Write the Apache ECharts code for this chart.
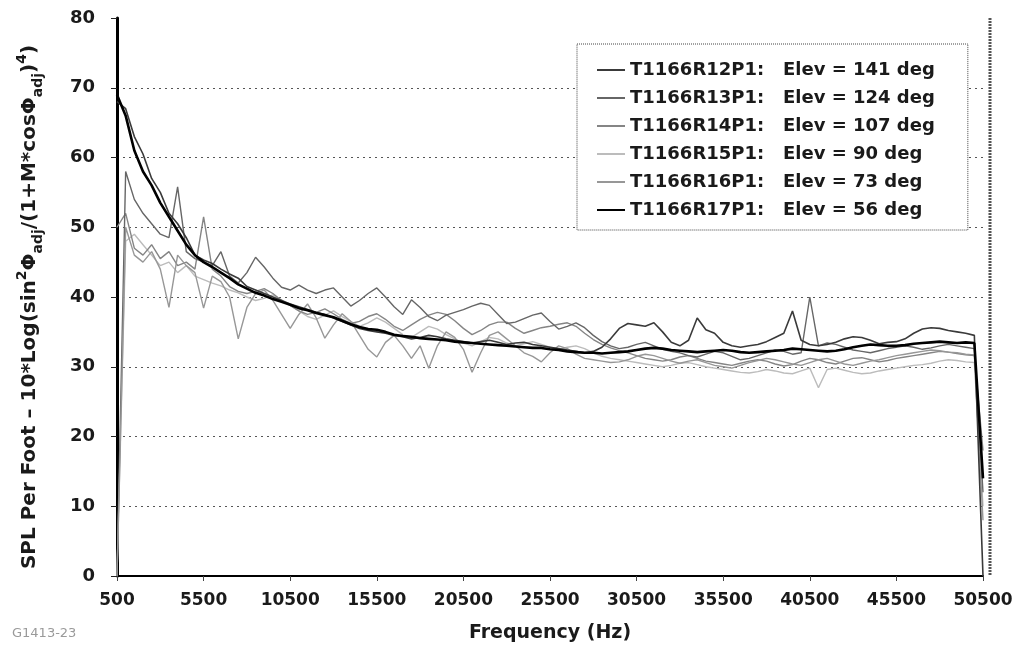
<!DOCTYPE html>
<html><head><meta charset="utf-8">
<script src="https://cdn.jsdelivr.net/npm/echarts@6/dist/echarts.min.js"></script>
<style>html,body{margin:0;padding:0;background:#fff}#c{width:1028px;height:649px}</style>
</head><body><div id="c"></div>
<script>
const frequencies = [
  500,1000,1500,2000,2500,3000,3500,4000,4500,5000,
  5500,6000,6500,7000,7500,8000,8500,9000,9500,10000,
  10500,11000,11500,12000,12500,13000,13500,14000,14500,15000,
  15500,16000,16500,17000,17500,18000,18500,19000,19500,20000,
  20500,21000,21500,22000,22500,23000,23500,24000,24500,25000,
  25500,26000,26500,27000,27500,28000,28500,29000,29500,30000,
  30500,31000,31500,32000,32500,33000,33500,34000,34500,35000,
  35500,36000,36500,37000,37500,38000,38500,39000,39500,40000,
  40500,41000,41500,42000,42500,43000,43500,44000,44500,45000,
  45500,46000,46500,47000,47500,48000,48500,49000,49500,50000,
  50500];
const seriesNames = ['T1166R12P1','T1166R13P1','T1166R14P1','T1166R15P1','T1166R16P1','T1166R17P1'];
const elevations = [141,124,107,90,73,56];
const yTicks = [0,10,20,30,40,50,60,70,80];

const r12 = [
  68,67,63,60.5,57,55,52,50.5,48.5,46,
  45.3,44.8,44,43.3,42.7,41.5,41,40.5,40,39.5,
  39,38.6,38.2,37.8,37.5,37,36.5,36,35.5,35.2,
  35,34.8,34.5,34.3,34,34.2,34.5,34.3,34,33.8,
  33.6,33.4,33.6,33.8,33.5,33.2,33.4,33.5,33.2,33,
  32.8,32.6,32.4,32.2,32,32.2,32.8,34,35.5,36.2,
  36,35.8,36.3,35,33.5,33,33.8,37,35.3,34.8,
  33.5,33,32.8,33,33.2,33.6,34.2,34.8,38,33.8,
  33.2,33,33.2,33.5,34,34.3,34.2,33.8,33.3,33.5,
  33.6,34,34.8,35.4,35.6,35.5,35.2,35,34.8,34.5,
  0];
const r13 = [
  0,58,54,52,50.5,49,48.5,55.8,46.5,45.5,
  45,44.5,46.5,43,42,43.5,45.7,44.3,42.7,41.4,
  41,41.7,41,40.5,41,41.3,40,38.7,39.5,40.5,
  41.3,40,38.6,37.5,39.6,38.5,37.2,36.6,37.4,37.8,
  38.2,38.7,39.1,38.8,37.5,36.2,36.4,36.9,37.4,37.7,
  36.5,35.4,35.8,36.3,35.6,34.5,33.6,33,32.6,32.8,
  33.2,33.5,33,32.5,32.2,32,31.6,31.4,31.8,32.2,
  32,31.5,31,31.2,31.6,32,32.4,32.2,31.8,32,
  40,33,33.4,33.2,32.8,32.4,32.2,32,32.3,32.6,
  32.8,33,32.8,32.5,32.7,33,33.2,33,32.8,32.6,
  12];
const r14 = [
  50,52,47,46,47.5,45.5,46.5,44.5,45,44,
  51.5,44,43,41.5,40.8,40.5,40.8,41.2,40.5,39.5,
  38.8,38,37.5,37.8,38.3,37.6,36.8,36.2,36.5,37.2,
  37.6,36.8,35.8,35.2,36,36.8,37.4,37.8,37.5,36.6,
  35.5,34.6,35.2,36,36.4,36.4,35.5,34.8,35.2,35.6,
  35.8,36.1,36.3,35.8,34.8,33.9,33.2,32.7,32.3,32,
  31.6,31.2,31,30.8,31,31.4,31.6,31.2,30.8,30.6,
  30.4,30.2,30.5,30.8,31,30.8,30.4,30.1,30.3,30.8,
  31.2,31,30.6,30.4,30.8,31.2,31.3,31,30.7,30.9,
  31.2,31.4,31.6,31.8,32,32.2,32.1,31.9,31.7,31.6,
  18];
const r15 = [
  0,48,49,47.5,46,44.5,45,43.5,44.5,43,
  42.5,42,41.6,41,40.6,40,39.5,39.8,40.3,39.6,
  38.8,38,37.2,36.8,37.4,38,37.2,36.5,35.8,36.3,
  37,36.4,35.5,34.6,34.2,35,35.8,35.4,34.6,34,
  33.4,33,33.6,34.2,34,33.4,33,33.3,33.6,33.2,
  32.8,32.5,32.8,33,32.6,32,31.5,31.2,31,30.8,
  30.6,30.4,30.2,30,30.2,30.5,30.6,30.3,30,29.8,
  29.6,29.4,29.2,29.1,29.3,29.6,29.4,29.1,29,29.4,
  29.8,27,29.6,29.8,29.5,29.2,29,29.1,29.4,29.6,
  29.8,30,30.2,30.3,30.5,30.8,31,30.9,30.7,30.6,
  10];
const r16 = [
  0,50,46,45,46.5,44,38.5,46,44.5,43.5,
  38.4,43,42.2,40,34,38.5,40.5,41,39.5,37.5,
  35.5,37.5,39,37,34.1,36,37.6,36.5,34.5,32.5,
  31.4,33.5,34.5,33,31.2,33,29.8,33,35,34.2,
  32.5,29.2,32,34.5,35,34,33,32,31.5,30.7,
  32,33,32.6,31.8,31.2,31,30.8,30.6,30.7,31,
  31.5,31.8,31.6,31.2,30.8,30.5,30.8,31,30.6,30.2,
  30,29.8,30.2,30.6,30.9,31.2,31,30.7,30.4,30.2,
  30.6,31,31.2,30.8,30.4,30.2,30.5,30.8,31,31.3,
  31.6,31.8,32,32.2,32.4,32.3,32.1,32,31.8,31.7,
  8];
const r17 = [
  69,66,61,58,56,53.5,51.5,49.5,47.5,46,
  45,44.3,43.5,42.7,41.8,41.2,40.6,40.2,39.7,39.3,
  38.9,38.4,38.1,37.7,37.4,37.1,36.6,36.1,35.7,35.4,
  35.3,35,34.6,34.4,34.3,34.1,34,33.9,33.8,33.6,
  33.5,33.4,33.3,33.2,33.1,33,32.9,32.8,32.7,32.7,
  32.5,32.4,32.2,32.1,32,32,31.9,32,32.1,32.2,
  32.4,32.6,32.7,32.6,32.4,32.3,32.2,32.1,32.2,32.3,
  32.4,32.3,32.1,32,32.1,32.2,32.3,32.4,32.6,32.5,
  32.4,32.3,32.2,32.3,32.5,32.8,33,33.2,33.1,33,
  33,33.1,33.3,33.4,33.5,33.6,33.5,33.4,33.5,33.4,
  14];

const seriesValues = [r12, r13, r14, r15, r16, r17];
const seriesColors = ['#3a3a3a', '#666666', '#858585', '#bcbcbc', '#979797', '#000000'];
const seriesWidths = [1.6, 1.4, 1.4, 1.4, 1.4, 2.6];
const seriesZ = [7, 4, 3, 2, 5, 8];

const chart = echarts.init(document.getElementById('c'), null, {renderer: 'canvas'});
const FONT = '"DejaVu Sans", Verdana, sans-serif';
const INK = '#1a1a1a';

const option = {
  animation: false,
  backgroundColor: '#ffffff',
  textStyle: {fontFamily: FONT},
  grid: {left: 117, right: 45, top: 18, bottom: 73, containLabel: false},
  legend: {
    orient: 'vertical',
    left: 577, top: 44,
    padding: [16, 33, 10, 20],
    itemGap: 8,
    icon: 'rect',
    itemWidth: 28, itemHeight: 2,
    backgroundColor: '#ffffff',
    borderColor: '#444', borderWidth: 1, borderType: 'dotted',
    data: seriesNames,
    formatter: function (name) {
      const i = seriesNames.indexOf(name);
      return name + ':   Elev = ' + elevations[i] + ' deg';
    },
    textStyle: {fontFamily: FONT, fontSize: 18, fontWeight: 'bold', color: INK, lineHeight: 20}
  },
  xAxis: {
    type: 'category',
    boundaryGap: false,
    data: frequencies.map(String),
    name: 'Frequency (Hz)',
    nameLocation: 'middle',
    nameGap: 48,
    nameTextStyle: {fontFamily: FONT, fontSize: 19, fontWeight: 'bold', color: INK},
    axisLine: {lineStyle: {color: '#000', width: 2}},
    axisTick: {interval: 9, length: 5, lineStyle: {color: '#444'}},
    axisLabel: {interval: 9, fontFamily: FONT, fontSize: 17, fontWeight: 'bold', color: INK, margin: 16},
    splitLine: {show: false}
  },
  yAxis: {
    type: 'value',
    min: yTicks[0], max: yTicks[yTicks.length - 1], interval: 10,
    name: '{a|SPL Per Foot – 10*Log(sin}{sup|2}{a|Φ}{sub|adj}{a|/(1+M*cosΦ}{sub|adj}{a|)}{sup|4}{a|)}',
    nameLocation: 'middle',
    nameGap: 72,
    nameTextStyle: {
      fontFamily: FONT,
      padding: [0, 20, 0, 0],
      rich: {
        a: {fontFamily: FONT, fontSize: 20, fontWeight: 'bold', color: INK, lineHeight: 30},
        sup: {fontFamily: FONT, fontSize: 14, fontWeight: 'bold', color: INK, lineHeight: 30, verticalAlign: 'top'},
        sub: {fontFamily: FONT, fontSize: 14, fontWeight: 'bold', color: INK, lineHeight: 30, verticalAlign: 'bottom'}
      }
    },
    axisLine: {show: true, lineStyle: {color: '#000', width: 3}},
    axisTick: {show: true, length: 6, lineStyle: {color: '#222'}},
    axisLabel: {fontFamily: FONT, fontSize: 18, fontWeight: 'bold', color: INK, margin: 22},
    splitLine: {show: true, showMinLine: false, showMaxLine: false, lineStyle: {color: '#555', width: 1.2, type: [2, 4]}}
  },
  graphic: [
    {type: 'line', shape: {x1: 990, y1: 18, x2: 990, y2: 576}, style: {stroke: '#555', lineWidth: 3, lineDash: [2, 1]}, z: 1},
    {type: 'text', left: 12, top: 627, style: {text: 'G1413-23', font: '13px "DejaVu Sans", sans-serif', fill: '#9a9a9a'}}
  ],
  series: seriesNames.map((n, i) => ({
    name: n,
    type: 'line',
    data: seriesValues[i],
    symbol: 'none',
    showSymbol: false,
    z: seriesZ[i],
    lineStyle: {color: seriesColors[i], width: seriesWidths[i]},
    itemStyle: {color: seriesColors[i]},
    emphasis: {disabled: true}
  }))
};
chart.setOption(option);
</script>
</body></html>
